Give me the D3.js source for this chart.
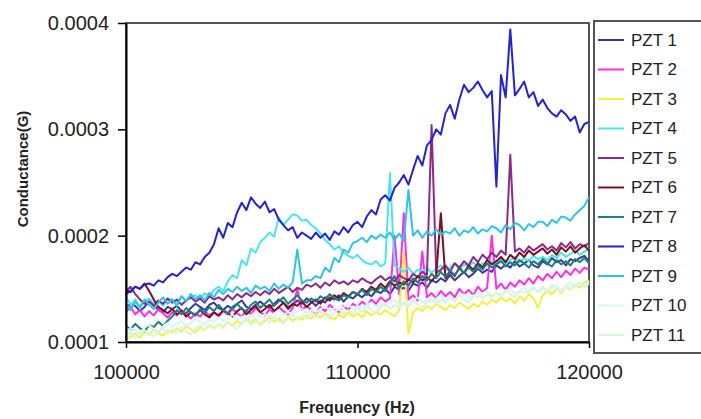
<!DOCTYPE html>
<html>
<head>
<meta charset="utf-8">
<script src="https://cdn.jsdelivr.net/npm/d3@7"></script>
<style>
  body { margin: 0; background: #fff; }
  svg { display: block; }
  text { font-family: Arial, "Liberation Sans", sans-serif; }
</style>
</head>
<body>
<svg id="chart" width="701" height="419"></svg>
<script>
// frequency sweep, one reading every 200 Hz
var freq = d3.range(100000, 120001, 200);

// conductance readings, in units of 1e-4 S
var pzt1 = [1.32,1.36,1.34,1.29,1.33,1.38,1.35,1.30,1.28,1.33,
  1.31,1.34,1.29,1.27,1.32,1.36,1.33,1.30,1.35,1.37,
  1.32,1.30,1.34,1.31,1.36,1.39,1.33,1.31,1.35,1.38,
  1.34,1.32,1.36,1.40,1.37,1.33,1.35,1.39,1.36,1.41,
  1.38,1.34,1.39,1.37,1.42,1.40,1.44,1.38,1.43,1.41,
  1.45,1.42,1.46,1.43,1.48,1.46,1.50,1.45,1.52,1.49,
  1.51,1.48,1.55,1.53,1.56,1.51,1.58,1.56,1.60,1.57,
  1.63,1.58,1.62,1.66,1.61,1.64,1.69,1.65,1.68,1.66,
  1.72,1.69,1.73,1.70,1.76,1.71,1.74,1.77,1.72,1.70,
  1.76,1.73,1.79,1.75,1.77,1.72,1.78,1.76,1.79,1.81,
  1.76];
var pzt2 = [1.28,1.33,1.26,1.30,1.24,1.29,1.25,1.31,1.27,1.23,
  1.28,1.25,1.30,1.26,1.22,1.27,1.24,1.29,1.25,1.28,
  1.24,1.29,1.26,1.31,1.27,1.24,1.30,1.26,1.32,1.28,
  1.25,1.31,1.27,1.33,1.29,1.26,1.32,1.50,1.30,1.34,
  1.30,1.27,1.33,1.29,1.35,1.31,1.28,1.34,1.30,1.36,
  1.33,1.38,1.34,1.40,1.36,1.42,1.38,1.41,2.00,1.45,
  2.21,1.40,1.44,1.39,1.85,1.42,1.46,1.41,1.48,1.43,
  1.47,1.42,1.50,1.45,1.49,1.44,1.52,1.47,1.51,2.00,
  1.50,1.55,1.49,1.56,1.52,1.58,1.54,1.60,1.55,1.62,
  1.58,1.64,1.60,1.66,1.61,1.67,1.63,1.69,1.65,1.70,
  1.68];
var pzt3 = [1.02,1.05,1.08,1.04,1.10,1.07,1.12,1.08,1.06,1.11,
  1.09,1.13,1.10,1.15,1.12,1.09,1.14,1.11,1.16,1.13,
  1.17,1.14,1.19,1.15,1.20,1.17,1.22,1.18,1.21,1.16,
  1.20,1.23,1.19,1.22,1.18,1.24,1.20,1.23,1.21,1.25,
  1.22,1.26,1.23,1.27,1.24,1.21,1.26,1.23,1.28,1.24,
  1.27,1.23,1.29,1.25,1.28,1.26,1.30,1.27,1.24,1.30,
  1.85,1.08,1.28,1.32,1.29,1.34,1.31,1.36,1.33,1.30,
  1.35,1.32,1.37,1.34,1.31,1.36,1.33,1.38,1.35,1.40,
  1.37,1.42,1.38,1.41,1.36,1.43,1.39,1.45,1.41,1.32,
  1.44,1.48,1.45,1.50,1.46,1.52,1.49,1.54,1.51,1.56,
  1.58];
var pzt4 = [1.42,1.35,1.40,1.32,1.38,1.41,1.36,1.39,1.34,1.40,
  1.40,1.37,1.43,1.39,1.42,1.44,1.40,1.46,1.43,1.49,
  1.52,1.48,1.57,1.63,1.60,1.77,1.72,1.88,1.84,1.94,
  1.98,2.03,1.99,2.17,2.10,2.15,2.20,2.19,2.14,2.15,
  2.10,2.07,2.02,1.96,1.92,1.87,1.90,1.84,1.81,1.79,
  1.82,1.77,1.74,1.73,1.76,1.71,1.74,2.59,1.72,1.69,
  1.66,1.70,1.64,1.68,1.66,1.70,1.65,1.69,1.72,1.67,
  1.70,1.74,1.68,1.73,1.71,1.75,1.70,1.74,1.72,1.76,
  1.74,1.78,1.73,1.77,1.80,1.75,1.79,1.76,1.81,1.78,
  1.80,1.77,1.82,1.79,1.84,1.80,1.83,1.86,1.82,1.85,
  1.88];
var pzt5 = [1.48,1.52,1.45,1.40,1.36,1.38,1.34,1.39,1.36,1.41,
  1.37,1.40,1.35,1.39,1.42,1.38,1.41,1.37,1.43,1.40,
  1.42,1.39,1.44,1.40,1.45,1.42,1.46,1.43,1.47,1.44,
  1.48,1.45,1.50,1.46,1.49,1.52,1.47,1.51,1.49,1.54,
  1.52,1.55,1.51,1.56,1.53,1.58,1.55,1.57,1.54,1.58,
  1.56,1.60,1.57,1.55,1.59,1.62,1.58,1.61,1.57,1.63,
  1.60,1.58,1.64,1.61,1.66,1.63,3.04,1.65,1.68,1.72,
  1.66,1.74,1.70,1.76,1.72,1.80,1.75,1.82,1.78,1.84,
  1.80,1.86,1.82,2.76,1.85,1.88,1.84,1.90,1.86,1.89,
  1.92,1.87,1.90,1.86,1.93,1.89,1.94,1.88,1.92,1.90,
  1.93];
var pzt6 = [1.45,1.48,1.52,1.50,1.55,1.48,1.40,1.33,1.30,1.27,
  1.31,1.26,1.29,1.24,1.28,1.25,1.30,1.26,1.23,1.28,
  1.25,1.30,1.27,1.24,1.29,1.32,1.26,1.30,1.34,1.28,
  1.31,1.35,1.29,1.33,1.37,1.31,1.36,1.34,1.38,1.33,
  1.37,1.40,1.36,1.42,1.39,1.44,1.41,1.46,1.43,1.47,
  1.45,1.50,1.47,1.52,1.49,1.55,1.51,1.57,1.53,1.56,
  1.54,1.59,1.56,1.62,1.58,1.61,1.57,1.63,2.21,1.60,
  1.66,1.62,1.70,1.65,1.72,1.68,1.74,1.70,1.77,1.73,
  1.76,1.80,1.75,1.82,1.78,1.84,1.80,1.86,1.82,1.85,
  1.88,1.83,1.87,1.82,1.89,1.85,1.90,1.84,1.88,1.91,
  1.86];
var pzt7 = [1.15,1.12,1.17,1.13,1.10,1.16,1.14,1.19,1.15,1.20,
  1.24,1.30,1.26,1.32,1.28,1.25,1.31,1.27,1.33,1.29,
  1.35,1.30,1.27,1.33,1.36,1.31,1.29,1.35,1.38,1.32,
  1.36,1.40,1.34,1.38,1.42,1.36,1.40,1.44,1.39,1.37,
  1.41,1.38,1.43,1.40,1.45,1.41,1.39,1.44,1.42,1.47,
  1.45,1.49,1.44,1.50,1.47,1.52,1.48,1.55,1.62,1.50,
  1.57,1.53,1.60,1.56,1.62,1.58,1.64,1.60,1.66,1.61,
  1.67,1.63,1.69,1.65,1.70,1.66,1.72,1.68,1.74,1.70,
  1.73,1.76,1.71,1.75,1.72,1.77,1.74,1.70,1.76,1.73,
  1.78,1.74,1.71,1.77,1.73,1.76,1.72,1.78,1.75,1.79,
  1.74];
var pzt8 = [1.49,1.47,1.52,1.50,1.54,1.55,1.53,1.58,1.56,1.61,
  1.64,1.62,1.66,1.70,1.68,1.75,1.73,1.80,1.84,1.92,
  2.07,1.98,2.12,2.08,2.22,2.31,2.24,2.36,2.30,2.26,
  2.32,2.22,2.25,2.15,2.10,2.05,2.08,1.98,2.03,2.00,
  1.97,2.03,1.98,2.02,1.96,2.04,2.01,2.08,2.03,2.10,
  2.13,2.08,2.18,2.24,2.20,2.34,2.38,2.33,2.45,2.50,
  2.57,2.48,2.62,2.75,2.66,2.85,2.90,3.00,2.95,3.15,
  3.23,3.10,3.28,3.42,3.35,3.39,3.45,3.37,3.30,3.36,
  2.46,3.51,3.30,3.94,3.32,3.38,3.45,3.30,3.35,3.22,
  3.28,3.20,3.15,3.12,3.18,3.14,3.08,3.12,2.97,3.05,
  3.07];
var pzt9 = [1.36,1.30,1.38,1.33,1.40,1.35,1.31,1.37,1.42,1.36,
  1.40,1.34,1.43,1.38,1.45,1.40,1.44,1.39,1.46,1.42,
  1.49,1.45,1.50,1.47,1.52,1.48,1.51,1.46,1.53,1.50,
  1.52,1.48,1.55,1.50,1.54,1.51,1.56,1.87,1.55,1.58,
  1.58,1.62,1.60,1.70,1.66,1.79,1.75,1.87,1.84,1.93,
  1.95,1.98,1.94,2.00,1.97,2.01,1.98,2.03,1.96,2.02,
  1.95,2.43,2.00,2.05,1.98,2.04,2.00,2.06,2.01,2.04,
  2.02,2.07,2.00,2.05,2.03,2.08,2.02,2.06,2.04,2.09,
  2.07,2.03,2.10,2.06,2.12,2.10,2.05,2.11,2.08,2.13,
  2.13,2.09,2.15,2.12,2.18,2.17,2.14,2.20,2.24,2.28,
  2.36];
var pzt10 = [1.10,1.13,1.11,1.08,1.14,1.16,1.12,1.10,1.15,1.18,
  1.14,1.17,1.20,1.15,1.18,1.22,1.19,1.16,1.21,1.19,
  1.23,1.20,1.22,1.26,1.21,1.24,1.22,1.25,1.28,1.23,
  1.26,1.24,1.27,1.30,1.25,1.28,1.26,1.29,1.31,1.27,
  1.30,1.28,1.31,1.34,1.29,1.32,1.30,1.33,1.36,1.31,
  1.34,1.32,1.35,1.37,1.33,1.36,1.34,1.38,1.40,1.35,
  1.38,1.36,1.39,1.42,1.37,1.40,1.38,1.41,1.44,1.39,
  1.42,1.40,1.43,1.45,1.41,1.44,1.42,1.46,1.48,1.43,
  1.46,1.44,1.47,1.50,1.45,1.48,1.46,1.49,1.52,1.47,
  1.50,1.48,1.51,1.53,1.49,1.52,1.50,1.54,1.56,1.51,
  1.55];
var pzt11 = [1.06,1.09,1.04,1.08,1.11,1.07,1.05,1.10,1.13,1.08,
  1.12,1.09,1.14,1.10,1.07,1.13,1.16,1.11,1.15,1.12,
  1.17,1.13,1.19,1.15,1.12,1.18,1.21,1.16,1.20,1.17,
  1.22,1.18,1.24,1.20,1.17,1.23,1.26,1.21,1.25,1.22,
  1.27,1.23,1.29,1.25,1.22,1.28,1.31,1.26,1.30,1.27,
  1.32,1.28,1.34,1.30,1.27,1.33,1.36,1.31,1.35,1.32,
  1.37,1.33,1.39,1.35,1.32,1.38,1.41,1.36,1.40,1.37,
  1.42,1.38,1.44,1.40,1.37,1.43,1.46,1.41,1.45,1.42,
  1.47,1.43,1.49,1.45,1.42,1.48,1.51,1.46,1.50,1.47,
  1.52,1.48,1.54,1.50,1.47,1.53,1.56,1.51,1.55,1.52,
  1.57];

var names = ["PZT 1", "PZT 2", "PZT 3", "PZT 4", "PZT 5", "PZT 6",
             "PZT 7", "PZT 8", "PZT 9", "PZT 10", "PZT 11"];
var values = [pzt1, pzt2, pzt3, pzt4, pzt5, pzt6, pzt7, pzt8, pzt9, pzt10, pzt11];
var colors = ["#3a3a96", "#ff2ee6", "#f4f040", "#4ee4ee", "#8a2a8a", "#7a1020",
              "#1a8080", "#2323d2", "#2ec4e6", "#d4f6fa", "#d8f6d8"];

var xTicks = [100000, 110000, 120000];
var yTicks = [1, 2, 3, 4];

var svg = d3.select("#chart"),
    margin = {top: 23, right: 112, bottom: 77, left: 126},
    width = +svg.attr("width") - margin.left - margin.right,
    height = +svg.attr("height") - margin.top - margin.bottom,
    g = svg.append("g").attr("transform", "translate(" + margin.left + "," + margin.top + ")");

var x = d3.scaleLinear().domain([100000, 120000]).range([0, width]);
var y = d3.scaleLinear().domain([1, 4]).range([height, 0]);

/* plot area frame */
g.append("rect")
    .attr("width", width)
    .attr("height", height)
    .attr("fill", "#fff")
    .attr("stroke", "#555")
    .attr("stroke-width", 2);

var line = d3.line()
    .x(function(d, i) { return x(freq[i]); })
    .y(function(d) { return y(d); });

g.selectAll(".serie")
    .data(values)
  .enter().append("path")
    .attr("class", "serie")
    .attr("fill", "none")
    .attr("stroke", function(d, i) { return colors[i]; })
    .attr("stroke-width", 2)
    .attr("stroke-linejoin", "round")
    .attr("d", line);

/* axes */
var xAxis = g.append("g")
    .attr("transform", "translate(0," + height + ")")
    .call(d3.axisBottom(x).tickValues(xTicks).tickSize(6).tickSizeOuter(0).tickPadding(17).tickFormat(d3.format("d")));

var yAxis = g.append("g")
    .call(d3.axisLeft(y).tickValues(yTicks).tickSize(8).tickSizeOuter(0).tickPadding(9)
      .tickFormat(function(d) { return (d / 10000).toFixed(4); }));

[xAxis, yAxis].forEach(function(a) {
  a.select(".domain").attr("stroke", "#000").attr("stroke-width", 2);
  a.selectAll(".tick line").attr("stroke", "#000").attr("stroke-width", 1.5);
  a.selectAll(".tick text").attr("fill", "#222").style("font-size", "20px");
});

svg.append("text")
    .attr("x", 357)
    .attr("y", 413)
    .attr("text-anchor", "middle")
    .attr("font-weight", "bold")
    .attr("fill", "#222")
    .style("font-size", "16px")
    .text("Frequency (Hz)");

svg.append("text")
    .attr("transform", "translate(28,169) rotate(-90)")
    .attr("text-anchor", "middle")
    .attr("font-weight", "bold")
    .attr("fill", "#222")
    .style("font-size", "15px")
    .text("Conductance(G)");

/* legend */
var legendBox = svg.append("g").attr("transform", "translate(594,21)");
legendBox.append("rect")
    .attr("width", 130)
    .attr("height", 332)
    .attr("fill", "#fff")
    .attr("stroke", "#555")
    .attr("stroke-width", 2);

var legend = legendBox.selectAll(".legend")
    .data(names)
  .enter().append("g")
    .attr("class", "legend")
    .attr("transform", function(d, i) { return "translate(0," + (19 + i * 29.5) + ")"; });

legend.append("line")
    .attr("x1", 4)
    .attr("x2", 30)
    .attr("stroke", function(d, i) { return colors[i]; })
    .attr("stroke-width", 2);

legend.append("text")
    .attr("x", 37)
    .attr("dy", "0.35em")
    .attr("fill", "#222")
    .style("font-size", "17px")
    .text(function(d) { return d; });
</script>
</body>
</html>
